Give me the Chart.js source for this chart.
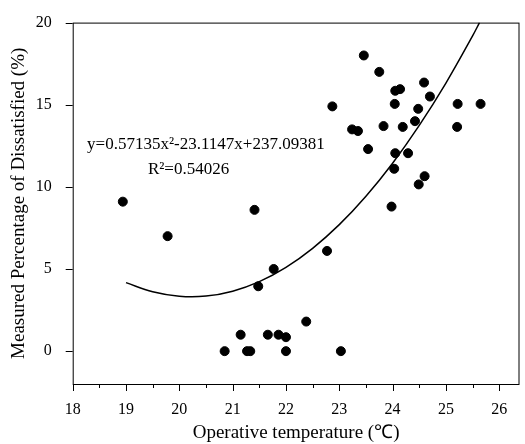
<!DOCTYPE html>
<html>
<head>
<meta charset="utf-8">
<script src="https://cdn.jsdelivr.net/npm/chart.js@4"></script>
<style>
  body { margin: 0; background: #fff; }
</style>
</head>
<body>
<canvas id="chart" width="525" height="444"></canvas>
<script>
// measured points (operative temperature, PD %)
const tempValues = [18.94, 19.78, 20.85, 21.15, 21.27, 21.33, 21.41, 21.48, 21.66, 21.77,
  21.86, 22.0, 22.0, 22.38, 22.77, 22.87, 23.03, 23.24, 23.35, 23.46,
  23.54, 23.75, 23.83, 23.98, 24.03, 24.04, 24.05, 24.05, 24.14, 24.19,
  24.29, 24.42, 24.48, 24.49, 24.59, 24.6, 24.7, 25.21, 25.22, 25.65];
const pdValues = [9.1, 7.0, 0, 1.0, 0, 0, 8.6, 3.95, 1.0, 5.0,
  1.0, 0.85, 0, 1.8, 6.1, 14.9, 0, 13.5, 13.4, 18.0,
  12.3, 17.0, 13.7, 8.8, 11.1, 15.05, 15.85, 12.05, 15.95, 13.65,
  12.05, 14.0, 14.75, 10.15, 16.35, 10.65, 15.5, 13.65, 15.05, 15.05];

// fitted curve
const fitX = [19, 19.5, 20, 20.5, 21, 21.5, 22, 22.5, 23, 23.5, 24, 24.5, 25, 25.5, 25.63];
const fitY = [4.17, 3.61, 3.34, 3.35, 3.65, 4.23, 5.1, 6.26, 7.7, 9.43, 11.44, 13.74, 16.32, 19.19, 20];

const xTicks = [18, 19, 20, 21, 22, 23, 24, 25, 26];
const yTicks = [0, 5, 10, 15, 20];

const equationText = 'y=0.57135x\u00b2-23.1147x+237.09381';
const r2Text = 'R\u00b2=0.54026';

const serif = '"Liberation Serif", "Times New Roman", serif';

const points = tempValues.map((t, i) => ({ x: t, y: pdValues[i] }));
const curve = fitX.map((t, i) => ({ x: t, y: fitY[i] }));

// frame, tick marks (incl. minor ticks) and the equation
const framePlugin = {
  id: 'frame',
  afterDraw(chart) {
    const { ctx, chartArea: a, scales } = chart;
    const xs = scales.x, ys = scales.y;
    ctx.save();
    ctx.strokeStyle = '#000';
    ctx.lineWidth = 1;
    ctx.strokeRect(a.left + 0.5, a.top + 0.5, a.right - a.left - 1, a.bottom - a.top);
    ctx.beginPath();
    yTicks.forEach(v => {
      const py = Math.round(ys.getPixelForValue(v)) + 0.5;
      ctx.moveTo(a.left - 7, py);
      ctx.lineTo(a.left, py);
    });
    xTicks.forEach((v, i) => {
      const px = Math.round(xs.getPixelForValue(v)) + 0.5;
      ctx.moveTo(px, a.bottom);
      ctx.lineTo(px, a.bottom + 7);
      if (i < xTicks.length - 1) {
        const mx = Math.round(xs.getPixelForValue((v + xTicks[i + 1]) / 2)) + 0.5;
        ctx.moveTo(mx, a.bottom);
        ctx.lineTo(mx, a.bottom + 4);
      }
    });
    ctx.stroke();

    ctx.fillStyle = '#000';
    ctx.font = '17px ' + serif;
    ctx.textBaseline = 'alphabetic';
    ctx.textAlign = 'left';
    ctx.fillText(equationText, xs.getPixelForValue(18.27), ys.getPixelForValue(12.28));
    ctx.fillText(r2Text, xs.getPixelForValue(19.41), ys.getPixelForValue(10.81));
    ctx.restore();
  }
};

new Chart(document.getElementById('chart'), {
  type: 'scatter',
  data: {
    datasets: [
      {
        data: points,
        backgroundColor: '#000',
        borderColor: '#000',
        pointRadius: 4.5,
        order: 0
      },
      {
        data: curve,
        showLine: true,
        borderColor: '#000',
        borderWidth: 1.5,
        pointRadius: 0,
        tension: 0.4,
        order: 1
      }
    ]
  },
  options: {
    responsive: false,
    animation: false,
    devicePixelRatio: 1,
    layout: { padding: { top: 18, right: 1.5, bottom: 0, left: 0 } },
    plugins: {
      legend: { display: false },
      tooltip: { enabled: false }
    },
    scales: {
      x: {
        type: 'linear',
        min: 18,
        max: 26.38,
        afterBuildTicks: s => { s.ticks = xTicks.map(v => ({ value: v })); },
        afterFit: s => { s.height = 60; },
        grid: { display: false },
        border: { display: false },
        ticks: {
          color: '#000',
          padding: 8,
          maxRotation: 0,
          font: { family: serif, size: 16 }
        },
        title: {
          display: true,
          text: 'Operative temperature (\u2103)',
          color: '#000',
          padding: { top: 0, bottom: 0 },
          font: { family: serif, size: 19 }
        }
      },
      y: {
        type: 'linear',
        min: -2,
        max: 20,
        afterBuildTicks: s => { s.ticks = yTicks.map(v => ({ value: v })); },
        afterFit: s => { s.width = 72.7; },
        grid: { display: false },
        border: { display: false },
        ticks: {
          color: '#000',
          padding: 13,
          font: { family: serif, size: 16 }
        },
        title: {
          display: true,
          text: 'Measured Percentage of Dissatisfied (%)',
          color: '#000',
          padding: { top: 8, bottom: 0 },
          font: { family: serif, size: 19 }
        }
      }
    }
  },
  plugins: [framePlugin]
});
</script>
</body>
</html>
